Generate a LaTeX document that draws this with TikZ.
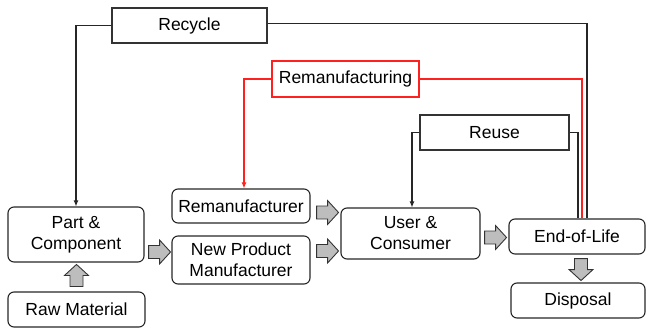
\documentclass[tikz,border=0pt]{standalone}
\usepackage{fontspec}
\setmainfont{Liberation Sans}
\usetikzlibrary{arrows.meta,calc}

\definecolor{arrowgray}{HTML}{BDBDBD}
\definecolor{loopred}{HTML}{FF2020}

\tikzset{
  x=1pt, y=-1pt,
  every node/.style={font=\fontsize{17.5}{21}\selectfont, inner sep=0pt, align=center},
  stage/.style={draw=black!85, line width=1.1pt, rounded corners=6pt},
  loopbox/.style={draw=black!80, line width=1.1pt, fill=white},
  redbox/.style={draw=loopred, line width=1.1pt, fill=white},
  flow/.style={draw=black!85, line width=1.1pt},
  redflow/.style={draw=loopred, line width=1.1pt},
  tip/.style={-{Latex[length=6pt,width=5pt]}},
  fatarrow/.pic={
    \draw[fill=arrowgray, draw=black!80, line width=0.9pt]
      (0,-6.5) -- (11,-6.5) -- (11,-12) -- (22,0) -- (11,12) -- (11,6.5) -- (0,6.5) -- cycle;
  }
}

\begin{document}
\begin{tikzpicture}
\useasboundingbox (0,0) rectangle (646,329);

% life-cycle stages
\node[stage, minimum width=136, minimum height=55] (part) at (76,234.5) {Part \&\\Component};
\node[stage, minimum width=137, minimum height=35] (raw) at (76.5,309.5) {Raw Material};
\node[stage, minimum width=138, minimum height=34] (reman) at (241,206) {Remanufacturer};
\node[stage, minimum width=138, minimum height=48] (npm) at (241,260) {New Product\\Manufacturer};
\node[stage, minimum width=139, minimum height=51] (user) at (410.5,233.5) {User \&\\Consumer};
\node[stage, minimum width=136, minimum height=35] (eol) at (577,236.5) {End-of-Life};
\node[stage, minimum width=134, minimum height=35] (disp) at (578,300.5) {Disposal};

% recovery loops
\node[loopbox, minimum width=155, minimum height=35] (rec) at (189.5,25.5) {Recycle};
\node[redbox, minimum width=147, minimum height=36] (remfg) at (345.5,79) {Remanufacturing};
\node[loopbox, minimum width=149, minimum height=35] (reuse) at (494.5,132.5) {Reuse};

% loop returns
\draw[flow] ([yshift=2]rec.east) -| ([xshift=10]eol.north);
\draw[redflow] (remfg.east) -| ([xshift=5]eol.north);
\draw[flow] (reuse.east) -| ([xshift=1]eol.north);

\draw[flow, tip] (rec.west) -| (part.north);
\draw[redflow, tip] (remfg.west) -| ([xshift=3]reman.north);
\draw[flow, tip] (reuse.west) -| ([xshift=1.5]user.north);

% material flow
\pic[rotate=90] at ($(raw.north)+(0,-5)$) {fatarrow};
\pic at ($(part.east)+(4,17.5)$) {fatarrow};
\pic at ($(reman.east)+(6,6.5)$) {fatarrow};
\pic at ($(npm.east)+(6,-9)$) {fatarrow};
\pic at ($(user.east)+(4,4)$) {fatarrow};
\pic[rotate=-90] at ($(eol.south)+(4,4)$) {fatarrow};
\end{tikzpicture}
\end{document}
